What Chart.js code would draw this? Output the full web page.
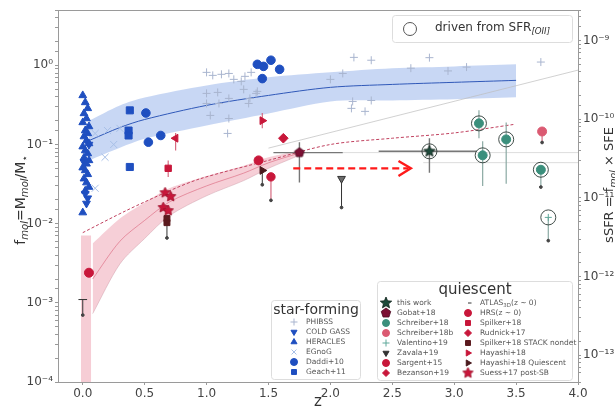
<!DOCTYPE html>
<html>
<head>
<meta charset="utf-8">
<script src="https://cdn.jsdelivr.net/npm/chart.js@4.4.1/dist/chart.umd.min.js"></script>
<style>
  html, body { margin: 0; padding: 0; background: #fff; }
</style>
</head>
<body>
<canvas id="c" width="615" height="410"></canvas>
<script>
// ---- fits ----
const sfZ   = [0.05, 0.3, 0.5, 1.0, 1.5, 2.0, 2.5, 3.0, 3.5];
const sfMid = [0.112, 0.164, 0.207, 0.312, 0.417, 0.527, 0.574, 0.61, 0.646];
const sfHi  = [0.2, 0.312, 0.393, 0.558, 0.705, 0.815, 0.917, 0.97, 1.03];
const sfLo  = [0.063, 0.091, 0.118, 0.174, 0.247, 0.35, 0.36, 0.372, 0.394];

const qZ   = [0.08, 0.3, 0.5, 0.7, 1.0, 1.3, 1.5, 1.75];
const qHi  = [0.0056, 0.0116, 0.0185, 0.028, 0.040, 0.054, 0.069, 0.084];
const qLo  = [0.00073, 0.0031, 0.0065, 0.0126, 0.0225, 0.035, 0.050, 0.073];
const qMid = [0.002, 0.006, 0.011, 0.0188, 0.030, 0.0435, 0.0587, 0.078];

const qTrZ = [0.0, 0.35, 0.7, 0.95, 1.5, 2.0, 2.5, 3.0, 3.49];
const qTrF = [0.0077, 0.0146, 0.026, 0.037, 0.063, 0.10, 0.12, 0.14, 0.18];

const greyLineZ = [1.5, 4.0];
const greyLineF = [0.09, 0.87];
const hLineF = [0.079, 0.059];
const hLineZ = [[2.1, 4.0], [2.75, 4.0]];

// ---- star-forming samples ----
const heraclesZ = [0.0, 0.02, 0.04, 0.01, 0.03, 0.0, 0.05, 0.02, 0.04, 0.01, 0.03, 0.05, 0.0, 0.02, 0.04, 0.01, 0.05, 0.03, 0.0, 0.02, 0.04, 0.01, 0.03, 0.05, 0.02, 0.0];
const heraclesF = [0.417, 0.34, 0.286, 0.247, 0.213, 0.19, 0.169, 0.15, 0.138, 0.126, 0.112, 0.103, 0.094, 0.084, 0.077, 0.068, 0.063, 0.057, 0.051, 0.047, 0.042, 0.037, 0.033, 0.029, 0.026, 0.0138];
const coldGassZ = [0.02, 0.04, 0.03, 0.05, 0.01];
const coldGassF = [0.024, 0.021, 0.018, 0.1, 0.06];
const egnogZ = [0.1, 0.18, 0.2, 0.3, 0.1, 0.25];
const egnogF = [0.138, 0.069, 0.15, 0.16, 0.028, 0.10];
const daddiZ = [0.51, 0.53, 0.63, 1.41, 1.46, 1.52, 1.59, 1.45];
const daddiF = [0.25, 0.107, 0.13, 1.03, 0.97, 1.16, 0.89, 0.68];
const geachZ = [0.38, 0.37, 0.37, 0.38];
const geachF = [0.27, 0.15, 0.13, 0.052];
const phibssZ = [1.0, 1.05, 1.12, 1.18, 1.22, 1.28, 1.31, 1.36, 1.30, 1.41, 1.0, 1.09, 1.18, 1.0, 1.1, 1.35, 1.40, 1.03, 1.18, 1.34, 1.17, 2.0, 2.1, 2.19, 2.33, 2.18, 2.17, 2.33, 2.28, 2.65, 2.8, 2.95, 3.1, 3.7];
const phibssF = [0.815, 0.747, 0.77, 0.79, 0.665, 0.627, 0.726, 0.815, 0.497, 0.469, 0.442, 0.455, 0.382, 0.33, 0.33, 0.382, 0.442, 0.233, 0.213, 0.33, 0.138, 0.665, 0.79, 1.26, 1.16, 0.35, 0.286, 0.36, 0.262, 0.92, 1.25, 0.85, 0.95, 1.1];

// ---- quiescent samples ----
const thisWorkZ = [2.80], thisWorkF = [0.082];
const gobatZ = [1.75], gobatF = [0.079];
const schreiberZ = [3.2, 3.23, 3.42, 3.70], schreiberF = [0.185, 0.073, 0.116, 0.048];
const schreiberBZ = [3.71], schreiberBF = [0.146];
const valentinoZ = [3.76], valentinoF = [0.012];
const zavalaZ = [2.09], zavalaF = [0.037];
const sargentZ = [1.42], sargentF = [0.063];
const bezansonZ = [1.52], bezansonF = [0.039];
const hrsZ = [0.05], hrsF = [0.0024];
const spilkerZ = [0.69], spilkerF = [0.05];
const rudnickZ = [1.62], rudnickF = [0.12];
const stackZ = [0.68, 0.68], stackF = [0.0116, 0.0103];
const hayashiZ = [0.75, 1.45], hayashiF = [0.12, 0.20], hayashiRot = [270, 90];
const hayashiQZ = [1.45], hayashiQF = [0.047];
const suessZ = [0.665, 0.71, 0.65, 0.69], suessF = [0.0246, 0.022, 0.016, 0.0146];
const ringZ = [2.80, 3.2, 3.23, 3.42, 3.70, 3.76], ringF = [0.082, 0.185, 0.073, 0.116, 0.048, 0.012];
const hrsRange = [[-0.015, 0.0071], [0.068, 0.0071]];

// error bars: [z, low, high]
const ebPink = [[0.75, 0.084, 0.14], [0.69, 0.039, 0.063], [1.45, 0.16, 0.25], [1.52, 0.0197, 0.039], [3.71, 0.106, 0.146]];
const ebDark = [[0.68, 0.0066, 0.0116], [1.45, 0.031, 0.047], [2.09, 0.016, 0.037], [0.0, 0.0007, 0.0011]];
const ebGrey = [[1.75, 0.033, 0.107], [2.80, 0.044, 0.12]];
const ebTeal = [[3.2, 0.12, 0.27], [3.23, 0.030, 0.11], [3.42, 0.032, 0.19], [3.70, 0.029, 0.048], [3.76, 0.0061, 0.012]];
// horizontal bars: [f, zlow, zhigh]
const ebGreyH = [[0.079, 1.54, 2.10], [0.082, 2.39, 3.18]];
const ebDarkH = [[0.0011, -0.035, 0.035]];
const limitZ = [0.68, 1.45, 2.09, 0.0, 1.52, 3.71, 3.70, 3.76];
const limitF = [0.0066, 0.031, 0.016, 0.0007, 0.0197, 0.106, 0.029, 0.0061];

// red arrow
const arrowZ = [1.70, 2.63], arrowF = [0.050, 0.050];
const arrowHeadZ = [2.55, 2.65, 2.55], arrowHeadF = [0.062, 0.050, 0.040];

const pts = (zs, fs) => zs.map((z, i) => ({ x: z, y: fs[i] }));
const vbars = list => list.flatMap(b => [{ x: b[0], y: b[1] }, { x: b[0], y: b[2] }, { x: b[0], y: null }]);
const hbars = list => list.flatMap(b => [{ x: b[1], y: b[0] }, { x: b[2], y: b[0] }, { x: b[2], y: null }]);

// filled star / pentagon point styles
function polyImg(n, r, inner, fill, stroke) {
    const c = document.createElement('canvas');
    c.width = c.height = Math.ceil(r * 2 + 2);
    const g = c.getContext('2d');
    g.translate(c.width / 2, c.height / 2);
    g.beginPath();
    const k = inner ? n * 2 : n;
    for (let i = 0; i < k; i++) {
        const rr = inner && i % 2 ? r * inner : r;
        const a = -Math.PI / 2 + i * Math.PI * 2 / k;
        g.lineTo(rr * Math.cos(a), rr * Math.sin(a));
    }
    g.closePath();
    g.fillStyle = fill; g.fill();
    g.strokeStyle = stroke; g.lineWidth = 0.8; g.stroke();
    return c;
}
const starDark = polyImg(5, 6, 0.45, '#1d4a3a', '#0d2018');
const starRed = polyImg(5, 5.5, 0.5, '#c8173a', '#9a0f2a');
const pentMaroon = polyImg(5, 5, 0, '#7c1034', '#4a0a20');

const BLUE = '#1f4fc0', CRIM = '#c8173a', TEAL = '#3b8f7c';

function sc(label, data, style, color, r, extra) {
    return Object.assign({ label, data, pointStyle: style, pointRadius: r, pointBackgroundColor: color,
        pointBorderColor: color, pointBorderWidth: 1, showLine: false, order: 1 }, extra || {});
}
function ln(data, color, w, extra) {
    return Object.assign({ data, borderColor: color, borderWidth: w, pointRadius: 0, showLine: true,
        spanGaps: false, fill: false, order: 6 }, extra || {});
}

const datasets = [
    // bands
    ln(pts(sfZ, sfHi), 'rgba(0,0,0,0)', 0, { fill: '+1', backgroundColor: 'rgba(110,150,225,0.38)', order: 20, tension: 0.3 }),
    ln(pts(sfZ, sfLo), 'rgba(0,0,0,0)', 0, { order: 21, tension: 0.3 }),
    ln(pts(qZ, qHi), 'rgba(0,0,0,0)', 0, { fill: '+1', backgroundColor: 'rgba(232,130,150,0.38)', order: 20, tension: 0.3 }),
    ln(pts(qZ, qLo), 'rgba(200,160,170,0.6)', 0.8, { order: 21, tension: 0.3 }),
    ln(hrsRange.map(p => ({ x: p[0], y: p[1] })), 'rgba(0,0,0,0)', 0, { fill: 'start', backgroundColor: 'rgba(232,130,150,0.4)', order: 20 }),
    // lines
    ln(pts(sfZ, sfMid), '#2f58b8', 1, { tension: 0.3 }),
    ln(pts(qZ, qMid), 'rgba(215,90,115,0.7)', 0.8, { tension: 0.3 }),
    ln(pts(qTrZ, qTrF), '#c0405e', 1, { borderDash: [3, 2], tension: 0.3 }),
    ln(pts(greyLineZ, greyLineF), 'rgba(190,190,190,0.7)', 1),
    ln(hLineZ.flatMap((r, i) => [{ x: r[0], y: hLineF[i] }, { x: r[1], y: hLineF[i] }, { x: r[1], y: null }]), 'rgba(200,200,200,0.8)', 0.8),
    // error bars
    ln(vbars(ebPink), '#d66a80', 1.2, { order: 4 }),
    ln(vbars(ebDark), '#333', 1, { order: 4 }),
    ln(vbars(ebGrey), '#777', 1.4, { order: 4 }),
    ln(hbars(ebGreyH), '#777', 1.4, { order: 4 }),
    ln(hbars(ebDarkH), '#333', 1, { order: 4 }),
    ln(vbars(ebTeal), '#8aa9a3', 1.2, { order: 4 }),
    sc('lim', pts(limitZ, limitF), 'circle', '#444', 1.4, { order: 3 }),
    // arrow
    ln(pts(arrowZ, arrowF), '#ff1a1a', 2.4, { borderDash: [7, 4], order: 2 }),
    ln(pts(arrowHeadZ, arrowHeadF), '#ff1a1a', 2.4, { order: 2 }),
    // star-forming
    sc('PHIBSS', pts(phibssZ, phibssF), 'cross', '#a9b5cf', 4),
    sc('EGnoG', pts(egnogZ, egnogF), 'crossRot', '#a7bfe6', 5),
    sc('HERACLES', pts(heraclesZ, heraclesF), 'triangle', BLUE, 4.5),
    sc('COLD GASS', pts(coldGassZ, coldGassF), 'triangle', BLUE, 4.5, { pointRotation: 180 }),
    sc('Daddi+10', pts(daddiZ, daddiF), 'circle', BLUE, 4.3),
    sc('Geach+11', pts(geachZ, geachF), 'rect', BLUE, 5),
    // quiescent
    sc('HRS', pts(hrsZ, hrsF), 'circle', CRIM, 4.5),
    sc('Spilker+18', pts(spilkerZ, spilkerF), 'rect', CRIM, 4.5),
    sc('STACK', pts(stackZ, stackF), 'rect', '#5b1a1e', 4.2),
    sc('Suess', pts(suessZ, suessF), starRed, CRIM, 5),
    sc('Hayashi', pts(hayashiZ, hayashiF), 'triangle', CRIM, 4.5, { pointRotation: hayashiRot }),
    sc('HayashiQ', pts(hayashiQZ, hayashiQF), 'triangle', '#4a1a1e', 4.5, { pointRotation: 90 }),
    sc('Sargent', pts(sargentZ, sargentF), 'circle', CRIM, 4.5),
    sc('Bezanson', pts(bezansonZ, bezansonF), 'circle', CRIM, 4.2),
    sc('Rudnick', pts(rudnickZ, rudnickF), 'rectRot', CRIM, 4.8),
    sc('Gobat', pts(gobatZ, gobatF), pentMaroon, '#7c1034', 5),
    sc('Zavala', pts(zavalaZ, zavalaF), 'triangle', '#6b6b6b', 4.5, { pointRotation: 180, pointBorderColor: '#333' }),
    sc('Schreiber18b', pts(schreiberBZ, schreiberBF), 'circle', '#db5a72', 4.5),
    sc('Schreiber', pts(schreiberZ, schreiberF), 'circle', TEAL, 4.5),
    sc('Valentino', pts(valentinoZ, valentinoF), 'cross', '#5fa89a', 3.5),
    sc('this work', pts(thisWorkZ, thisWorkF), starDark, '#1d4a3a', 6),
    sc('rings', pts(ringZ, ringF), 'circle', 'rgba(0,0,0,0)', 7.5, { pointBorderColor: '#2d3a36', pointBorderWidth: 0.9, order: 0 })
];

const SUP = { '-': '⁻', '0': '⁰', '1': '¹', '2': '²', '3': '³', '4': '⁴', '5': '⁵', '6': '⁶', '7': '⁷', '8': '⁸', '9': '⁹' };
function powLabel(v) {
    const l = Math.log10(v), r = Math.round(l);
    if (Math.abs(l - r) > 1e-6) return '';
    return '10' + String(r).split('').map(c => SUP[c]).join('');
}

const FONT = '"DejaVu Sans", sans-serif';

// text with subscripts: parts = [[text, isSub, italic], ...]
function rich(ctx, parts, x, y, size, align, color) {
    ctx.fillStyle = color || '#333';
    ctx.textBaseline = 'middle';
    ctx.textAlign = 'left';
    const w = parts.map(p => { ctx.font = (p[2] ? 'italic ' : '') + (p[1] ? size * 0.72 : size) + 'px ' + FONT; return ctx.measureText(p[0]).width; });
    const total = w.reduce((a, b) => a + b, 0);
    let cx = align === 'center' ? x - total / 2 : x;
    parts.forEach((p, i) => {
        ctx.font = (p[2] ? 'italic ' : '') + (p[1] ? size * 0.72 : size) + 'px ' + FONT;
        ctx.fillText(p[0], cx, p[1] ? y + size * 0.3 : y);
        cx += w[i];
    });
}

function mark(ctx, style, color, x, y, r, rot, border) {
    ctx.save();
    ctx.fillStyle = color;
    ctx.strokeStyle = border || color;
    ctx.lineWidth = 1;
    Chart.helpers.drawPoint(ctx, { pointStyle: style, radius: r, rotation: rot || 0, borderWidth: 1 }, x, y);
    ctx.restore();
}

function box(ctx, x, y, w, h) {
    ctx.save();
    ctx.fillStyle = 'rgba(255,255,255,0.9)';
    ctx.strokeStyle = '#ddd';
    ctx.lineWidth = 1;
    ctx.beginPath();
    ctx.roundRect(x + 0.5, y + 0.5, w, h, 3);
    ctx.fill(); ctx.stroke();
    ctx.restore();
}

const sfLegend = [
    ['PHIBSS', 'cross', '#a9b5cf', 0],
    ['COLD GASS', 'triangle', BLUE, 180],
    ['HERACLES', 'triangle', BLUE, 0],
    ['EGnoG', 'crossRot', '#a7bfe6', 0],
    ['Daddi+10', 'circle', BLUE, 0],
    ['Geach+11', 'rect', BLUE, 0]
];
const qLegendL = [
    [[['this work']], starDark, '#1d4a3a'],
    [[['Gobat+18']], pentMaroon, '#7c1034'],
    [[['Schreiber+18']], 'circle', TEAL],
    [[['Schreiber+18b']], 'circle', '#db5a72'],
    [[['Valentino+19']], 'cross', '#5fa89a'],
    [[['Zavala+19']], 'triangle', '#333', 180],
    [[['Sargent+15']], 'circle', CRIM],
    [[['Bezanson+19']], 'rectRot', CRIM]
];
const qLegendR = [
    [[['ATLAS'], ['3D', 1], ['(z ∼ 0)']], 'dash', '#333'],
    [[['HRS(z ∼ 0)']], 'circle', CRIM],
    [[['Spilker+18']], 'rect', CRIM],
    [[['Rudnick+17']], 'rectRot', CRIM],
    [[['Spilker+18 STACK nondet']], 'rect', '#5b1a1e'],
    [[['Hayashi+18']], 'triangle', CRIM, 90],
    [[['Hayashi+18 Quiescent']], 'triangle', '#4a1a1e', 90],
    [[['Suess+17 post-SB']], starRed, CRIM]
];

const decor = {
    id: 'decor',
    afterDraw(chart) {
        const ctx = chart.ctx, a = chart.chartArea;
        ctx.save();
        ctx.strokeStyle = '#9a9a9a';
        ctx.lineWidth = 1;
        ctx.strokeRect(a.left + 0.5, a.top + 0.5, a.right - a.left, a.bottom - a.top);

        // axis titles
        ctx.save();
        ctx.translate(21, 200);
        ctx.rotate(-Math.PI / 2);
        rich(ctx, [['f'], ['mol', 1, 1], ['=M'], ['mol', 1, 1], ['/M'], ['⋆', 1]], 0, 0, 14, 'center', '#333');
        ctx.restore();
        ctx.save();
        ctx.translate(610, 185);
        ctx.rotate(-Math.PI / 2);
        rich(ctx, [['sSFR = f'], ['mol', 1, 1], [' × SFE']], 0, 0, 13, 'center', '#333');
        ctx.restore();
        ctx.font = '15px ' + FONT;
        ctx.fillStyle = '#333';
        ctx.textAlign = 'center';
        ctx.textBaseline = 'middle';
        ctx.fillText('z', 318, 402);

        // SFR[OII] legend
        box(ctx, 392, 15, 180, 27);
        ctx.beginPath();
        ctx.arc(410, 29, 6.5, 0, Math.PI * 2);
        ctx.strokeStyle = '#555'; ctx.lineWidth = 1; ctx.stroke();
        rich(ctx, [['driven from SFR'], ['[OII]', 1, 1]], 435, 28, 12, 'left', '#333');

        // star-forming legend
        box(ctx, 271, 300, 89, 79);
        ctx.font = '14px ' + FONT; ctx.fillStyle = '#333'; ctx.textAlign = 'center';
        ctx.fillText('star-forming', 316, 310);
        sfLegend.forEach((e, i) => {
            const y = 322 + i * 10;
            mark(ctx, e[1], e[2], 294, y, 3.5, e[3]);
            rich(ctx, [[e[0]]], 306, y, 7.5, 'left', '#555');
        });

        // quiescent legend
        box(ctx, 377, 281, 195, 99);
        ctx.font = '15px ' + FONT; ctx.fillStyle = '#333'; ctx.textAlign = 'center';
        ctx.fillText('quiescent', 475, 290);
        qLegendL.forEach((e, i) => {
            const y = 303 + i * 10;
            mark(ctx, e[1], e[2], 386, y, 3.5, e[3]);
            rich(ctx, e[0], 397, y, 7.5, 'left', '#555');
        });
        qLegendR.forEach((e, i) => {
            const y = 303 + i * 10;
            mark(ctx, e[1], e[2], 468, y, 3.5, e[3]);
            rich(ctx, e[0], 480, y, 7.5, 'left', '#555');
        });
        ctx.restore();
    }
};

const tickFont = { family: FONT, size: 12 };
new Chart(document.getElementById('c'), {
    type: 'scatter',
    data: { datasets },
    options: {
        responsive: false,
        animation: false,
        devicePixelRatio: 1,
        layout: { padding: { top: 10, left: 0, right: 0, bottom: 0 } },
        plugins: { legend: { display: false }, tooltip: { enabled: false } },
        scales: {
            x: {
                type: 'linear', min: -0.2, max: 4.0,
                grid: { drawOnChartArea: false, tickLength: 3, color: '#999' },
                border: { color: '#999' },
                ticks: { stepSize: 0.5, includeBounds: false, font: tickFont, color: '#444', padding: 2, callback: v => Math.abs(v).toFixed(1) },
                afterFit: s => { s.height = 28; }
            },
            y: {
                type: 'logarithmic', min: 1e-4, max: 5,
                grid: { drawOnChartArea: false, tickLength: 3, color: '#999' },
                border: { color: '#999' },
                ticks: { autoSkip: false, font: tickFont, color: '#444', padding: 2, callback: powLabel },
                afterFit: s => { s.width = 58; }
            },
            y2: {
                type: 'logarithmic', position: 'right', min: Math.pow(10, -13.34), max: Math.pow(10, -8.61),
                grid: { drawOnChartArea: false, tickLength: 3, color: '#999' },
                border: { color: '#999' },
                ticks: { autoSkip: false, font: tickFont, color: '#444', padding: 2, callback: powLabel },
                afterFit: s => { s.width = 37; }
            }
        }
    },
    plugins: [decor]
});
</script>
</body>
</html>
